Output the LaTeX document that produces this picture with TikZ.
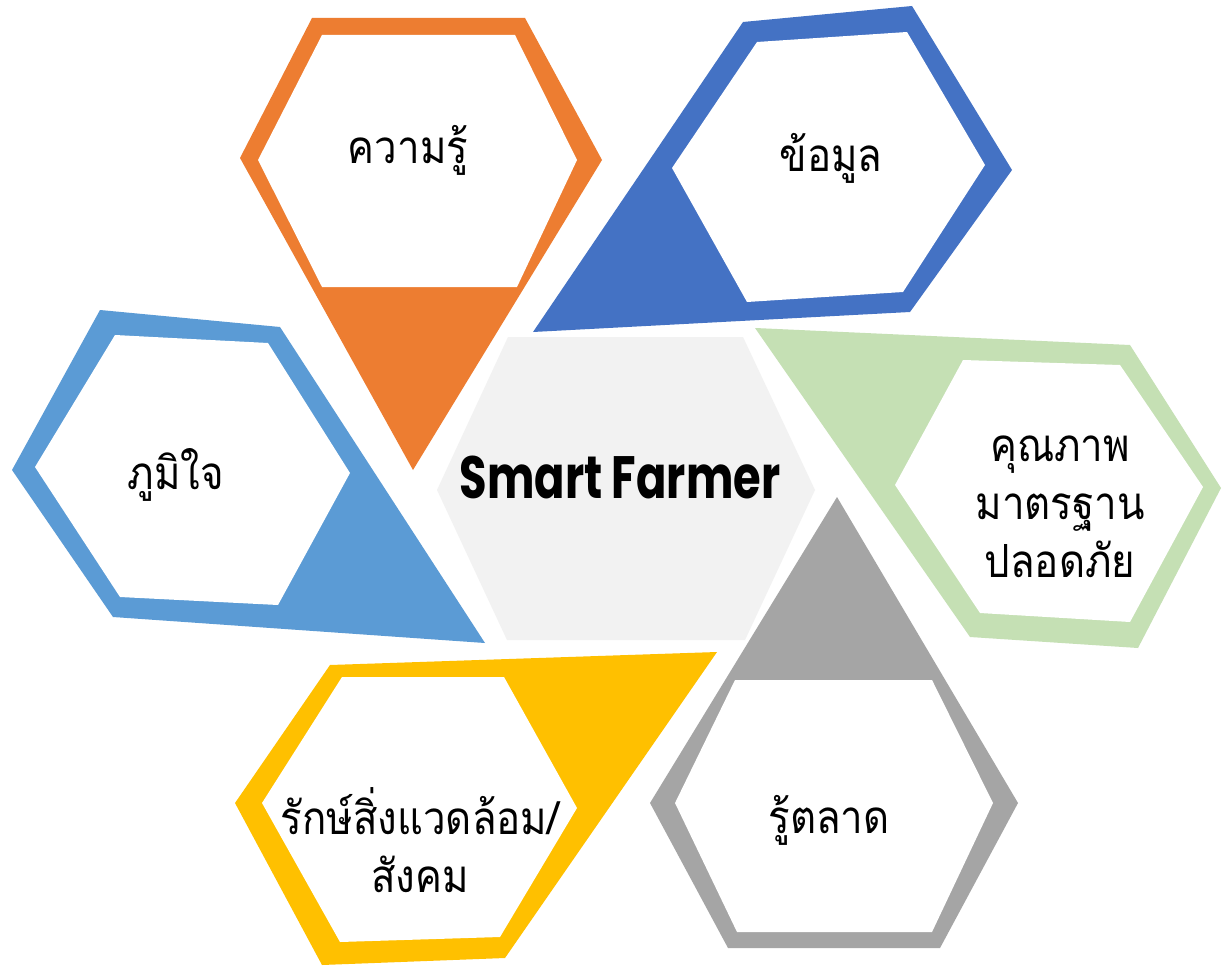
\documentclass[tikz,border=0pt]{standalone}
\usepackage{fontspec}
\usepackage{graphicx}
\newfontfamily\thaifont[Script=Thai,FakeStretch=0.88]{Loma}
\newfontfamily\latinfont{Poppins}
\definecolor{cOrange}{HTML}{ED7D31}
\definecolor{cBlue}{HTML}{4472C4}
\definecolor{cLBlue}{HTML}{5B9BD5}
\definecolor{cGreen}{HTML}{C5E0B4}
\definecolor{cGray}{HTML}{A5A5A5}
\definecolor{cYellow}{HTML}{FFC000}
\definecolor{cCenter}{HTML}{F2F2F2}
\begin{document}
\begin{tikzpicture}[x=0.02cm,y=-0.02cm,
  thai/.style={font=\thaifont\fontsize{26}{33}\selectfont, align=center, inner sep=0pt, text=black},
  inner/.style={fill=white}]
\fill[white] (0,0) rectangle (1222,969);
\useasboundingbox (0,0) rectangle (1222,969);

% centre hexagon
\fill[cCenter] (437,490) -- (508,337) -- (743,337) -- (815,490) -- (745,640) -- (507,640) -- cycle;

% orange
\fill[cOrange] (240,158) -- (312,18) -- (525,18) -- (602,160) -- (413,470) -- cycle;
\fill[inner] (258,160) -- (322,35) -- (515,35) -- (577,160) -- (517,287) -- (322,287) -- cycle;

% blue
\fill[cBlue] (743,22) -- (912,6) -- (1012,170) -- (910,312) -- (533,332) -- cycle;
\fill[inner] (757,42) -- (907,32) -- (985,165) -- (903,292) -- (747,302) -- (672,168) -- cycle;

% green
\fill[cGreen] (755,328) -- (1130,345) -- (1221,488) -- (1138,648) -- (970,637) -- cycle;
\fill[inner] (963,360) -- (1120,365) -- (1203,487) -- (1130,622) -- (980,613) -- (895,485) -- cycle;

% gray
\fill[cGray] (837,497) -- (1018,803) -- (940,948) -- (728,948) -- (650,803) -- cycle;
\fill[inner] (735,680) -- (932,680) -- (993,803) -- (932,932) -- (737,932) -- (675,803) -- cycle;

% yellow
\fill[cYellow] (717,652) -- (330,665) -- (235,803) -- (322,965) -- (505,958) -- cycle;
\fill[inner] (342,677) -- (504,677) -- (577,808) -- (500,937) -- (340,942) -- (262,803) -- cycle;

% light blue
\fill[cLBlue] (100,310) -- (280,327) -- (485,643) -- (113,617) -- (12,470) -- cycle;
\fill[inner] (115,335) -- (268,343) -- (350,473) -- (278,605) -- (120,597) -- (35,467) -- cycle;

% texts
\node (center) at (620,477) {\latinfont\bfseries\fontsize{34}{40}\selectfont\scalebox{0.75}[1]{Smart Farmer}};
\node[thai] (knowledge) at (408,150) {ความรู้};
\node[thai] (data) at (831,158) {ข้อมูล};
\node[thai] (pride) at (176,475) {ภูมิใจ};
\node[thai] (quality) at (1060,507) {คุณภาพ\\มาตรฐาน\\ปลอดภัย};
\node[thai] (market) at (829,820) {รู้ตลาด};
\node[thai] (environment) at (420,840) {รักษ์สิ่งแวดล้อม/\\สังคม};
\end{tikzpicture}
\end{document}
